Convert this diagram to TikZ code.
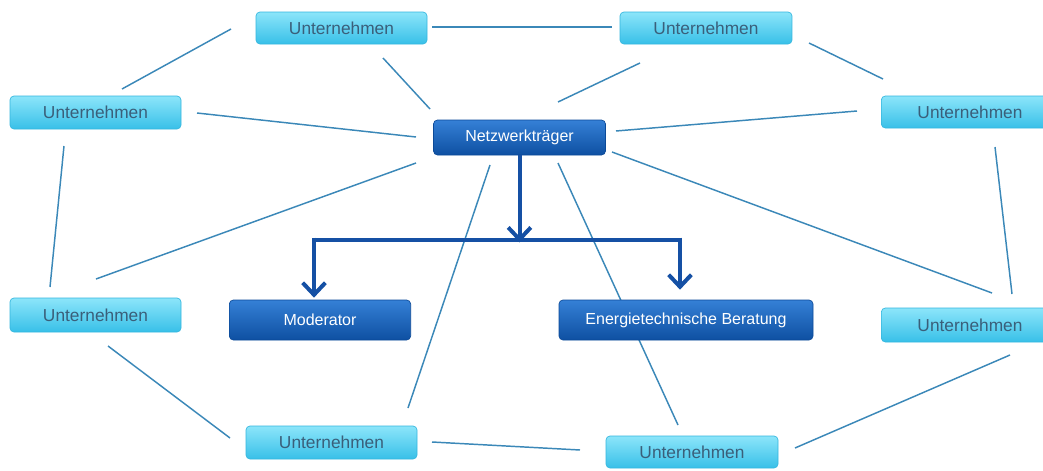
\documentclass[tikz,border=0pt]{standalone}
\usepackage{fontspec}
\setmainfont{Liberation Sans}
\usetikzlibrary{arrows.meta,calc}
\pgfdeclarelayer{bg}
\pgfsetlayers{bg,main}
\definecolor{lTop}{HTML}{8CE5FA}
\definecolor{lMid}{HTML}{4FD1F2}
\definecolor{lBot}{HTML}{38C0E8}
\definecolor{lEdge}{HTML}{34B6DE}
\definecolor{dTop}{HTML}{3580D6}
\definecolor{dMid}{HTML}{1764C2}
\definecolor{dBot}{HTML}{0E50A2}
\definecolor{dEdge}{HTML}{0C4A98}
\definecolor{lText}{HTML}{3A5F7A}
\definecolor{linkC}{HTML}{3B88B8}
\definecolor{arrC}{HTML}{1550A4}
\tikzset{
  ubox/.style={rounded corners=3pt, draw=lEdge, line width=0.5pt,
    top color=lTop, middle color=lMid, bottom color=lBot,
    text=lText, font=\fontsize{13}{15}\selectfont, inner sep=0pt},
  dbox/.style={rounded corners=3pt, draw=dEdge, line width=0.5pt,
    top color=dTop, middle color=dMid, bottom color=dBot,
    text=white, font=\fontsize{12}{14}\selectfont, inner sep=0pt},
  link/.style={draw=linkC, line width=1.1pt},
  flow/.style={draw=arrC, line width=3pt},
  flowarr/.style={flow, -{Straight Barb[length=9pt,width=17pt,line width=3pt]}}
}
\begin{document}
\begin{tikzpicture}[x=0.75pt,y=-0.75pt]
\useasboundingbox (0,0) rectangle (1043,471);
% light boxes
\node[ubox, minimum width=128.25pt, minimum height=24pt] (U1) at (341.5,28) {Unternehmen};
\node[ubox, minimum width=129pt, minimum height=24pt] (U2) at (706,28) {Unternehmen};
\node[ubox, minimum width=128.25pt, minimum height=24.75pt] (U3) at (95.5,112.5) {Unternehmen};
\node[ubox, minimum width=129pt, minimum height=24pt, text width=133pt, align=center] (U4) at (970,112) {Unternehmen};
\node[ubox, minimum width=128.25pt, minimum height=25.5pt] (U5) at (95.5,315) {Unternehmen};
\node[ubox, minimum width=129pt, minimum height=25.5pt, text width=133pt, align=center] (U6) at (970,325) {Unternehmen};
\node[ubox, minimum width=128.25pt, minimum height=24.75pt] (U7) at (331.5,442.5) {Unternehmen};
\node[ubox, minimum width=129pt, minimum height=24pt] (U8) at (692,452) {Unternehmen};
% dark boxes
\node[dbox, minimum width=129pt, minimum height=26.25pt] (N) at (519.5,137.5) {Netzwerkträger};
\node[dbox, minimum width=136pt, minimum height=30pt] (M) at (320,320) {Moderator};
\node[dbox, minimum width=190.5pt, minimum height=30pt] (E) at (686,320) {Energietechnische Beratung};
% thin links
\begin{pgfonlayer}{bg}
\draw[link] ($(U1)+(90.5,-1)$) -- ($(U2)+(-94,-1)$);
\draw[link] ($(U3)+(26.5,-23.5)$) -- ($(U1)+(-110.5,1)$);
\draw[link] ($(U1)+(41.5,30)$) -- ($(N)+(-89.5,-28.5)$);
\draw[link] ($(N)+(38.5,-35.5)$) -- ($(U2)+(-66,35)$);
\draw[link] ($(U2)+(103,15)$) -- ($(U4)+(-87,-33)$);
\draw[link] ($(U3)+(101.5,0.5)$) -- ($(N)+(-103.5,-0.5)$);
\draw[link] ($(N)+(96.5,-6.5)$) -- ($(U4)+(-113,-1)$);
\draw[link] ($(U3)+(-31.5,33.5)$) -- ($(U5)+(-45.5,-28)$);
\draw[link] ($(U4)+(25,35)$) -- ($(U6)+(42,-31)$);
\draw[link] ($(U5)+(0.5,-36)$) -- ($(N)+(-103.5,25.5)$);
\draw[link] ($(N)+(92.5,14.5)$) -- ($(U6)+(22,-32)$);
\draw[link] ($(U5)+(12.5,31)$) -- ($(U7)+(-101.5,-4.5)$);
\draw[link] ($(U7)+(100.5,-0.5)$) -- ($(U8)+(-112,-2)$);
\draw[link] ($(U8)+(103,-4)$) -- ($(U6)+(40,30)$);
\draw[link] ($(N)+(-29.5,27.5)$) -- ($(U7)+(76.5,-34.5)$);
\draw[link] ($(N)+(38.5,25.5)$) -- ($(U8)+(-14,-27)$);
\end{pgfonlayer}
% flow arrows
\coordinate (J) at ($(N.south)+(0,85)$);
\coordinate (JL) at ($(M.north)+(-6,-60)$);
\coordinate (JR) at ($(E.north)+(-6,-60)$);
\draw[flow] (JL) -- (JR);
\draw[flowarr] (N.south) -- ($(J)+(0,2)$);
\draw[flowarr] ($(JL)+(0,-2)$) -- ($(M.north)+(-6,-2)$);
\draw[flowarr] ($(JR)+(0,-2)$) -- ($(E.north)+(-6,-10)$);
\end{tikzpicture}
\end{document}
